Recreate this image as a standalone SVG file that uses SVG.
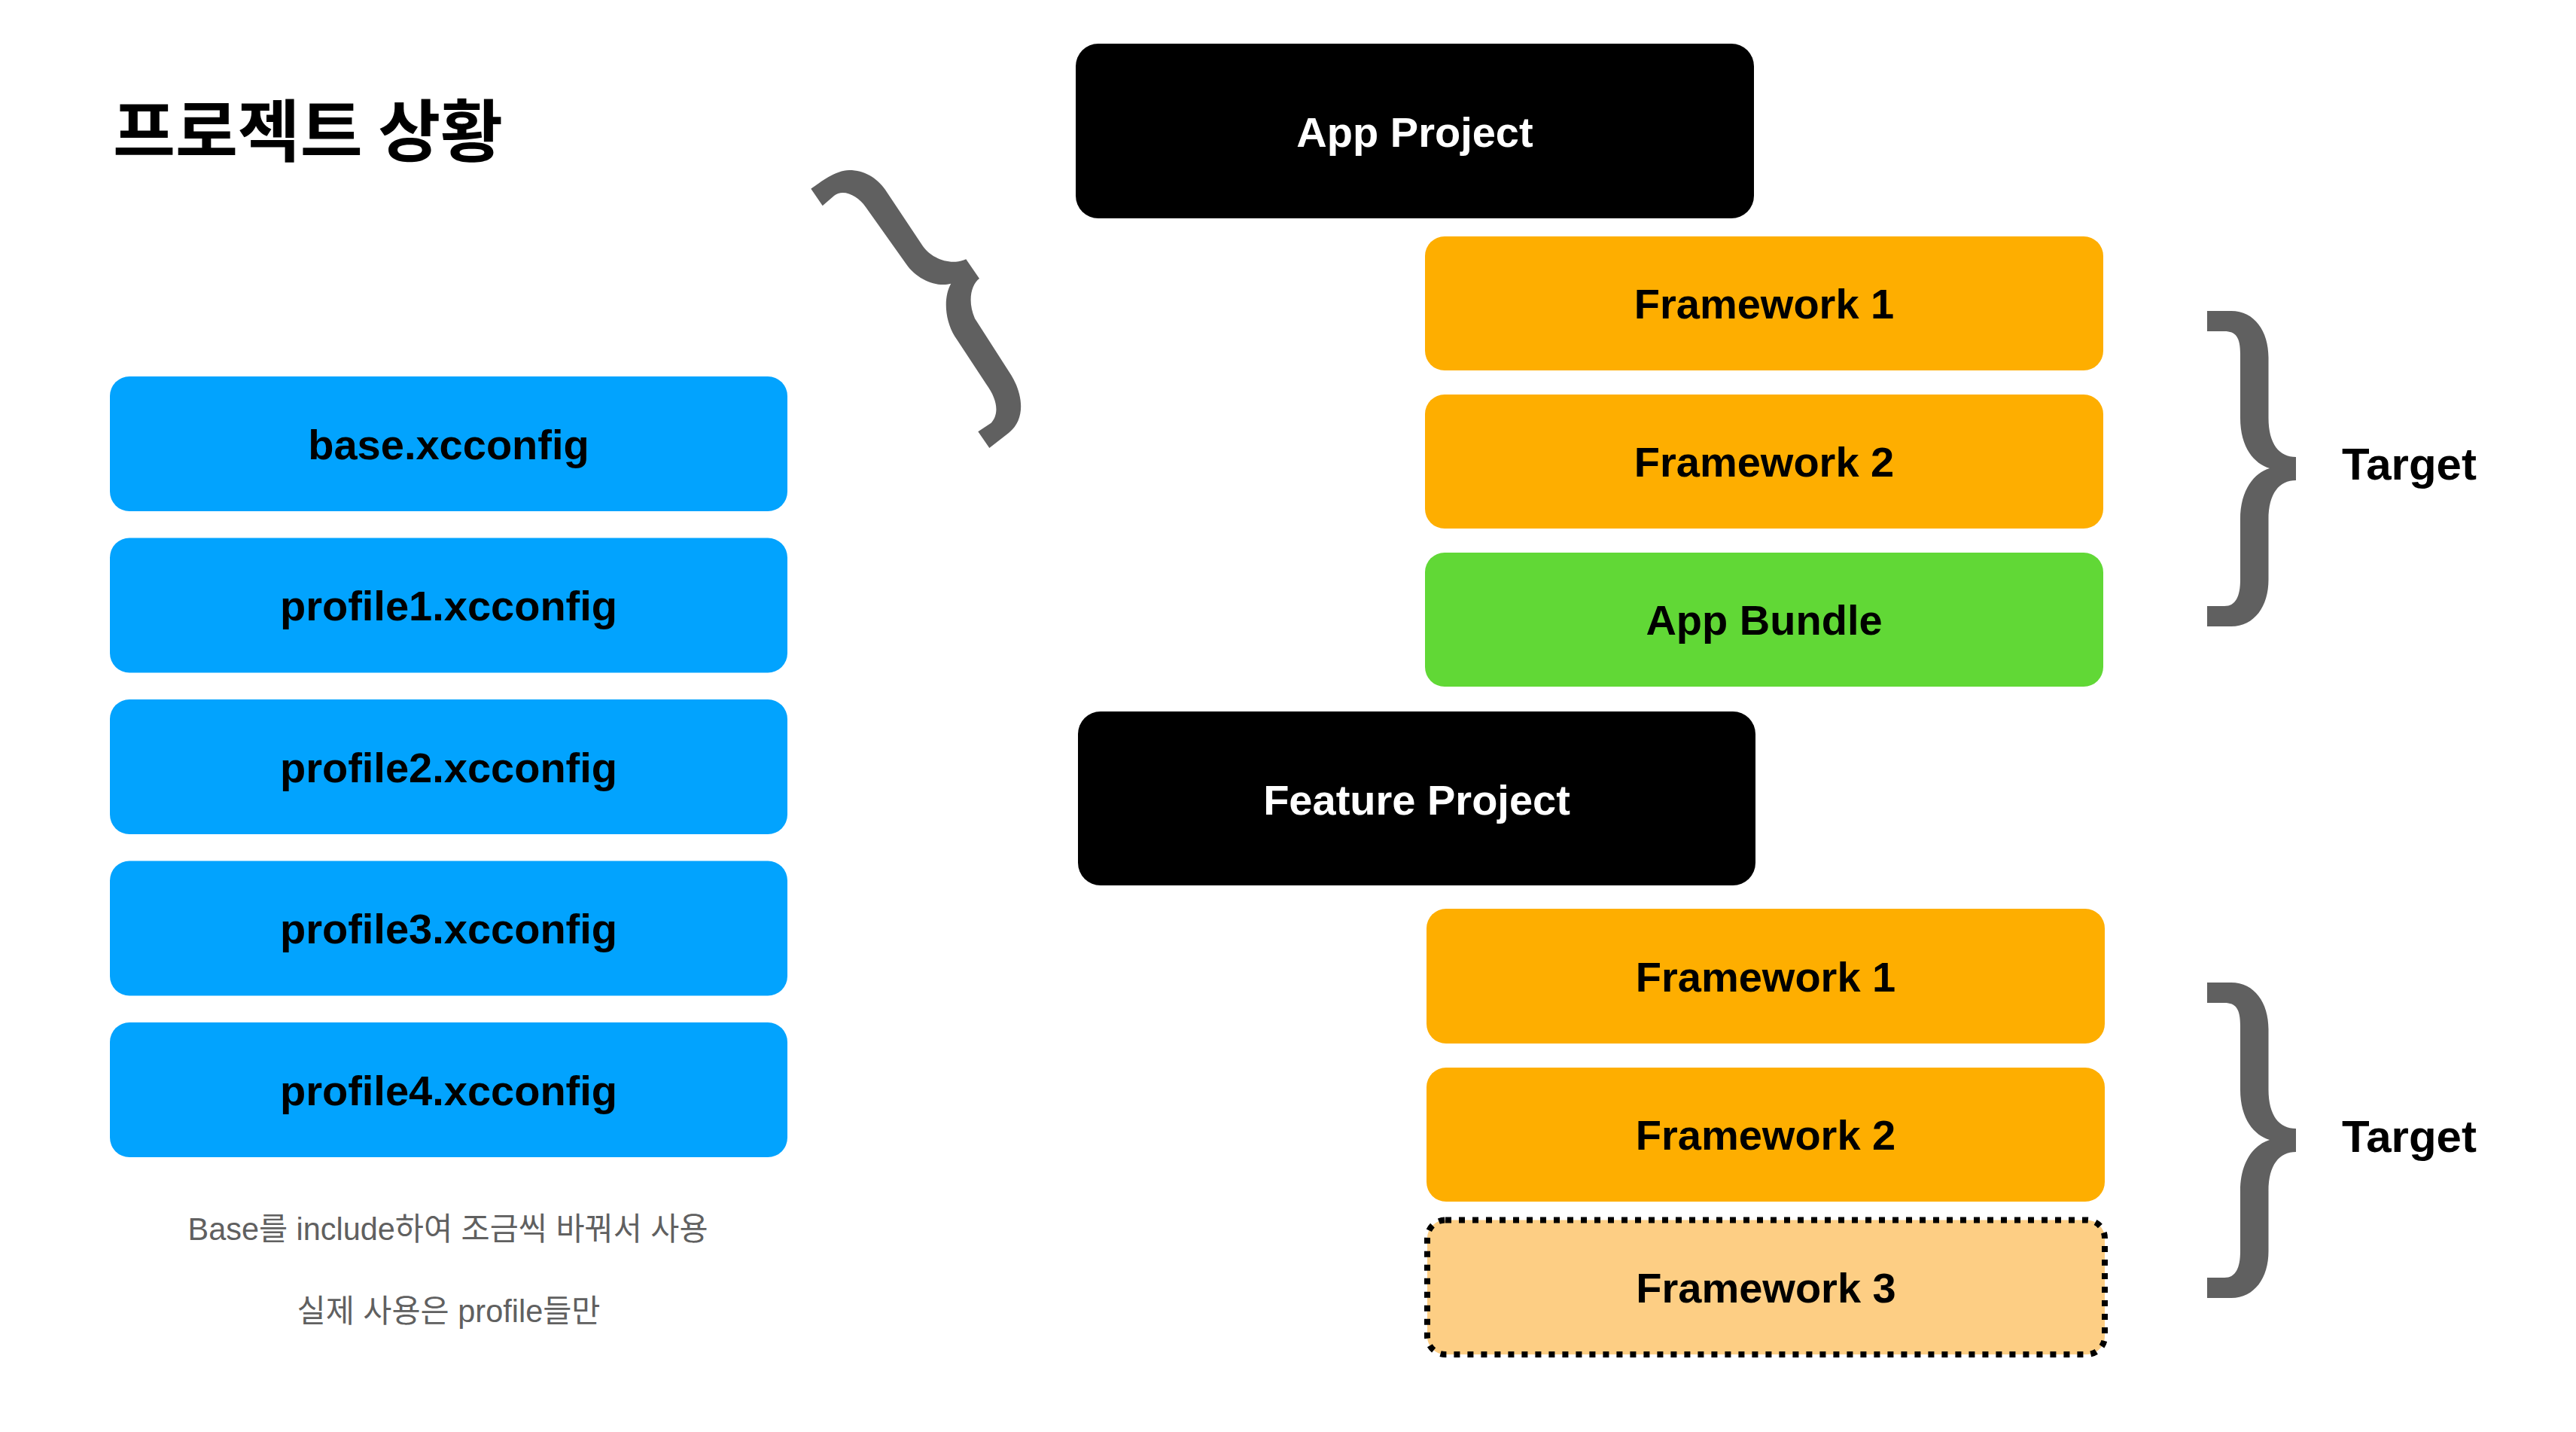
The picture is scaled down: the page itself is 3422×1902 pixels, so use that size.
<svg xmlns="http://www.w3.org/2000/svg" xmlns:xlink="http://www.w3.org/1999/xlink" width="3422" height="1902" viewBox="0 0 3422 1902">
  <style>
    .lbl { font-family: "Liberation Sans", Arial, "Noto Sans CJK KR", sans-serif; font-weight: 700; font-size: 56px; text-anchor: middle; }
    .dark { fill: #000000; }
    .light { fill: #ffffff; }
    .blue { fill: #02A3FE; }
    .orange { fill: #FEAE00; }
    .green { fill: #61D836; }
    .black { fill: #000000; }
    .pale { fill: #FDCE84; stroke: #000000; stroke-width: 8; stroke-dasharray: 8 10; }
    .brace { fill: #606060; }
    .cap { font-family: "Liberation Sans", Arial, "Noto Sans CJK KR", sans-serif; font-size: 42px; fill: #606060; text-anchor: middle; }
    .target { font-family: "Liberation Sans", Arial, sans-serif; font-weight: 700; font-size: 60px; fill: #000000; }
    .title { font-family: "Noto Sans CJK KR", "Liberation Sans", sans-serif; font-weight: 700; font-size: 90px; fill: #000000; }
  </style>
  <defs>
    <path id="brace" d="M 2932 413 L 2964 413 C 2995 413 3013.5 440 3013.5 475 L 3013.5 555 C 3013.5 590 3028 607 3050 607 L 3050 638 C 3028 638 3013.5 655 3013.5 690 L 3013.5 770 C 3013.5 805 2995 832 2964 832 L 2932 832 L 2932 805 L 2955 805 C 2970 805 2976 792 2976 770 L 2976 690 C 2976 650 2995 628 3015 622 C 2995 616 2976 595 2976 555 L 2976 470 C 2976 448 2970 440 2955 440 L 2932 440 Z"/>
  </defs>
  <rect width="3422" height="1902" fill="#ffffff"/>

  <text id="title" class="title" x="150" y="207" textLength="518" lengthAdjust="spacingAndGlyphs">프로젝트 상황</text>

  <g id="left-brace">
    <path class="brace" d="M 1077.3 250.7 C 1090 242 1110 226 1128 226 C 1148 226 1165 236 1176 252 L 1226 327 C 1236 342 1262 354 1283.3 344.3 L 1301 370 C 1290 378 1285 400 1295 423 L 1343.3 498.3 C 1358 522 1364 556 1340 575 L 1314.3 595 L 1299.3 573.3 L 1316.7 561.7 C 1327 550 1326 532 1310 510 L 1268.3 446.7 C 1255 425 1253 395 1263.3 376.7 C 1245 382 1218 372 1203.3 350 L 1150 275 C 1140 260 1120 250 1108 260 L 1092.7 273.3 Z"/>
  </g>

  <g id="base-xcconfig">
    <rect class="blue" x="146" y="500" width="900" height="179" rx="26"/>
    <text class="lbl dark" x="596" y="609.5">base.xcconfig</text>
  </g>
  <g id="profile1-xcconfig">
    <rect class="blue" x="146" y="714.5" width="900" height="179" rx="26"/>
    <text class="lbl dark" x="596" y="824">profile1.xcconfig</text>
  </g>
  <g id="profile2-xcconfig">
    <rect class="blue" x="146" y="929" width="900" height="179" rx="26"/>
    <text class="lbl dark" x="596" y="1038.5">profile2.xcconfig</text>
  </g>
  <g id="profile3-xcconfig">
    <rect class="blue" x="146" y="1143.5" width="900" height="179" rx="26"/>
    <text class="lbl dark" x="596" y="1253">profile3.xcconfig</text>
  </g>
  <g id="profile4-xcconfig">
    <rect class="blue" x="146" y="1358" width="900" height="179" rx="26"/>
    <text class="lbl dark" x="596" y="1467.5">profile4.xcconfig</text>
  </g>

  <g id="captions">
    <text class="cap" x="595" y="1647" textLength="691" lengthAdjust="spacingAndGlyphs">Base를 include하여 조금씩 바꿔서 사용</text>
    <text class="cap" x="596" y="1756" textLength="403" lengthAdjust="spacingAndGlyphs">실제 사용은 profile들만</text>
  </g>

  <g id="app-project">
    <rect class="black" x="1429" y="58" width="901" height="232" rx="30"/>
    <text class="lbl light" x="1879.5" y="194.5">App Project</text>
  </g>
  <g id="app-framework1">
    <rect class="orange" x="1893" y="314" width="901" height="178" rx="26"/>
    <text class="lbl dark" x="2343.5" y="423">Framework 1</text>
  </g>
  <g id="app-framework2">
    <rect class="orange" x="1893" y="524" width="901" height="178" rx="26"/>
    <text class="lbl dark" x="2343.5" y="633">Framework 2</text>
  </g>
  <g id="app-bundle">
    <rect class="green" x="1893" y="734" width="901" height="178" rx="26"/>
    <text class="lbl dark" x="2343.5" y="843">App Bundle</text>
  </g>

  <g id="feature-project">
    <rect class="black" x="1432" y="945" width="900" height="231" rx="30"/>
    <text class="lbl light" x="1882" y="1081.5">Feature Project</text>
  </g>
  <g id="feature-framework1">
    <rect class="orange" x="1895" y="1207" width="901" height="179" rx="26"/>
    <text class="lbl dark" x="2345.5" y="1316.5">Framework 1</text>
  </g>
  <g id="feature-framework2">
    <rect class="orange" x="1895" y="1418" width="901" height="178" rx="26"/>
    <text class="lbl dark" x="2345.5" y="1527">Framework 2</text>
  </g>
  <g id="feature-framework3">
    <rect class="pale" x="1896" y="1620.5" width="900" height="178.5" rx="24"/>
    <text class="lbl dark" x="2346" y="1730">Framework 3</text>
  </g>

  <g id="app-target">
    <use xlink:href="#brace" class="brace"/>
    <text class="target" x="3111" y="637">Target</text>
  </g>
  <g id="feature-target">
    <use xlink:href="#brace" class="brace" transform="translate(0 892)"/>
    <text class="target" x="3111" y="1530">Target</text>
  </g>
</svg>
